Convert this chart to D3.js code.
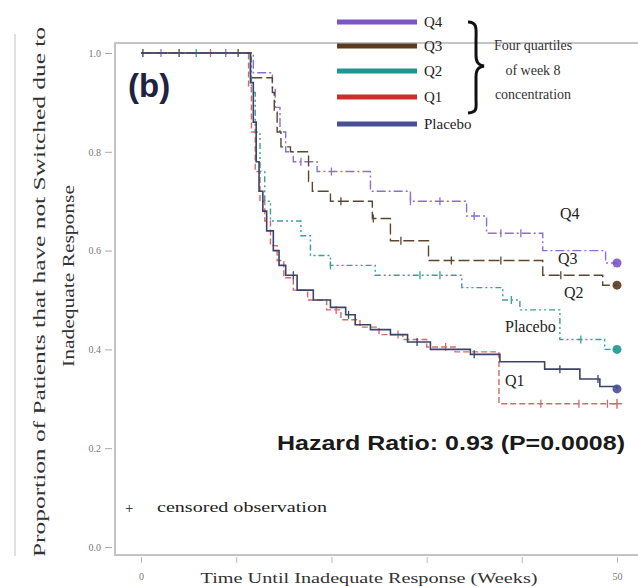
<!DOCTYPE html>
<html>
<head>
<meta charset="utf-8">
<script src="https://cdn.jsdelivr.net/npm/d3@7/dist/d3.min.js"></script>
<style>
  html, body { margin: 0; padding: 0; background: #fff; }
  svg { display: block; }
</style>
</head>
<body>
<svg id="chart" width="638" height="587"></svg>
<script>
// Kaplan-Meier step data: [week, proportion remaining] at each step
const weeks = [0, 10, 20, 30, 40, 50];
const xTickLabels = ["0", "", "", "", "", "50"];
const yTicks = [0.0, 0.2, 0.4, 0.6, 0.8, 1.0];
const yTickLabels = ["0.0", "0.2", "0.4", "0.6", "0.8", "1.0"];

const q4Steps = [[0,1],[11.8,0.96],[13.8,0.93],[14.1,0.89],[14.6,0.84],[15.2,0.80],[16.0,0.78],[18.5,0.76],[24.1,0.72],[28.3,0.70],[34.2,0.67],[36.3,0.635],[42.2,0.60],[48.8,0.575],[50,0.575]];
const q3Steps = [[0,1],[11.5,0.95],[13.8,0.92],[14.0,0.88],[14.3,0.84],[14.7,0.81],[15.7,0.80],[17.6,0.74],[18.0,0.72],[19.9,0.70],[24.3,0.665],[26.2,0.62],[30.2,0.58],[42.2,0.55],[48.5,0.53],[50,0.53]];
const q2Steps = [[0,1],[11.6,0.92],[12.0,0.84],[12.5,0.76],[13.0,0.70],[13.6,0.66],[16.8,0.63],[17.8,0.59],[19.9,0.57],[24.6,0.55],[33.7,0.525],[38.0,0.50],[39.8,0.48],[44.0,0.42],[48.7,0.40],[50,0.40]];
const q1Steps = [[0,1],[11.3,0.93],[11.6,0.84],[12.0,0.76],[12.5,0.70],[13.0,0.66],[13.6,0.61],[14.3,0.58],[15.0,0.545],[16.0,0.52],[17.5,0.50],[19.5,0.48],[21.0,0.46],[23.0,0.445],[25.0,0.43],[27.5,0.42],[30.0,0.405],[33.0,0.395],[37.6,0.29],[50,0.29]];
const placeboSteps = [[0,1],[11.5,0.94],[11.8,0.86],[12.1,0.78],[12.4,0.72],[12.8,0.68],[13.2,0.64],[13.9,0.60],[14.5,0.57],[15.2,0.55],[16.4,0.52],[18.1,0.50],[19.9,0.485],[21.5,0.47],[22.5,0.45],[24.1,0.44],[26.2,0.43],[28.0,0.415],[30.4,0.40],[34.6,0.39],[37.7,0.375],[42.4,0.36],[46.1,0.34],[48.2,0.325],[50,0.32]];

// censored observation times (weeks)
const q4Censor = [2.1, 8.9, 16.8, 20.0, 28.3, 31.4, 35.0, 37.8, 39.9];
const q3Censor = [4.0, 10.2, 21.0, 24.4, 27.3, 32.6, 37.8, 44.1];
const q2Censor = [5.8, 19.9, 29.3, 31.4, 38.9, 46.2];
const q1Censor = [7.3, 20.5, 27.0, 32.0, 42.0, 46.0, 49.0];
const placeboCensor = [0.2, 16.0, 21.8, 29.0, 35.0, 44.0, 48.0];

const seriesNames = ["Q4", "Q3", "Q2", "Q1", "Placebo"];
const seriesColors = ["#7a55c8", "#5b3b1f", "#1f9690", "#c8302c", "#4a4f95"];
const plotColors = ["#8e6fd0", "#5b4630", "#3a9e97", "#d36a6a", "#3c4268"];
const dashes = ["9,3,2,3", "11,4", "6,3,2,3,2,3", "6,3", null];
const endMarker = ["dot", "dot", "dot", "plus", "dot"];

const allSteps = [q4Steps, q3Steps, q2Steps, q1Steps, placeboSteps];
const allCensor = [q4Censor, q3Censor, q2Censor, q1Censor, placeboCensor];

const svg = d3.select("#chart");
const x = d3.scaleLinear().domain([0, 50]).range([141, 617]);
const y = d3.scaleLinear().domain([0, 1]).range([547, 53]);

const serif = "'Liberation Serif', 'Times New Roman', serif";
const sans = "'Liberation Sans', Arial, sans-serif";

// faint outer border on the left
svg.append("line").attr("x1", 15).attr("x2", 15).attr("y1", 34).attr("y2", 556)
  .attr("stroke", "#d6d6d6").attr("stroke-width", 1.5);

// plot frame
svg.append("rect").attr("x", 115).attr("y", 43).attr("width", 530).attr("height", 512)
  .attr("fill", "none").attr("stroke", "#c4c4c4").attr("stroke-width", 2);

// y axis
const yAxis = d3.axisLeft(y).tickValues(yTicks).tickFormat((d, i) => yTickLabels[i])
  .tickSize(7).tickPadding(4);
const gy = svg.append("g").attr("transform", "translate(112,0)").call(yAxis);
gy.select(".domain").remove();
gy.selectAll("line").attr("stroke", "#aaa");
gy.selectAll("text").attr("font-family", serif).attr("font-size", 10).attr("fill", "#777");

// x axis
const xAxis = d3.axisBottom(x).tickValues(weeks).tickFormat((d, i) => xTickLabels[i])
  .tickSize(6).tickPadding(10);
const gx = svg.append("g").attr("transform", "translate(0,557)").call(xAxis);
gx.select(".domain").remove();
gx.selectAll("line").attr("stroke", "#bbb");
gx.selectAll("text").attr("font-family", serif).attr("font-size", 10).attr("fill", "#777");

// survival curves
const line = d3.line().x(d => x(d[0])).y(d => y(d[1])).curve(d3.curveStepAfter);

function valueAt(steps, t) {
  let v = steps[0][1];
  for (const s of steps) { if (s[0] <= t) v = s[1]; }
  return v;
}

// draw placebo last so it sits on top of the others
const order = [0, 1, 2, 3, 4];
order.forEach(i => {
  const g = svg.append("g");
  g.append("path").datum(allSteps[i]).attr("d", line)
    .attr("fill", "none").attr("stroke", plotColors[i])
    .attr("stroke-width", i === 4 ? 1.6 : 1.4)
    .attr("stroke-dasharray", dashes[i]);
  g.selectAll("line.cens").data(allCensor[i]).join("line")
    .attr("x1", d => x(d)).attr("x2", d => x(d))
    .attr("y1", d => y(valueAt(allSteps[i], d)) - 4)
    .attr("y2", d => y(valueAt(allSteps[i], d)) + 4)
    .attr("stroke", plotColors[i]).attr("stroke-width", 1.3);
  const last = allSteps[i][allSteps[i].length - 1];
  if (endMarker[i] === "dot") {
    g.append("circle").attr("cx", x(last[0])).attr("cy", y(last[1])).attr("r", 4.5)
      .attr("fill", seriesColors[i]).attr("opacity", 0.9);
  } else {
    g.append("path")
      .attr("d", `M${x(last[0]) - 5},${y(last[1])}h10M${x(last[0])},${y(last[1]) - 5}v10`)
      .attr("stroke", plotColors[i]).attr("stroke-width", 1.4);
  }
});

// panel letter
svg.append("text").attr("x", 128).attr("y", 97).text("(b)")
  .attr("font-family", sans).attr("font-weight", "bold").attr("font-size", 33)
  .attr("fill", "#1f2340");

// legend
const legendY = [22, 46, 71, 97, 124];
seriesNames.forEach((n, i) => {
  svg.append("line").attr("x1", 337).attr("x2", 417)
    .attr("y1", legendY[i]).attr("y2", legendY[i])
    .attr("stroke", seriesColors[i]).attr("stroke-width", 5);
  svg.append("text").attr("x", 424).attr("y", legendY[i] + 5).text(n)
    .attr("font-family", serif).attr("font-size", 15).attr("fill", "#222");
});

// brace grouping the quartiles
svg.append("path")
  .attr("d", "M468,22 C478,22 476,30 476,40 L476,55 C476,62 478,65 484,66 C478,67 476,70 476,77 L476,98 C476,108 478,112 468,113")
  .attr("fill", "none").attr("stroke", "#111").attr("stroke-width", 3);

const braceText = ["Four quartiles", "of week 8", "concentration"];
const braceY = [50, 75, 99];
braceText.forEach((t, i) => {
  svg.append("text").attr("x", 533).attr("y", braceY[i]).text(t)
    .attr("text-anchor", "middle").attr("font-family", serif).attr("font-size", 14).attr("fill", "#333");
});

// curve labels
const curveLabels = ["Q4", "Q3", "Q2", "Placebo", "Q1"];
const curveLabelX = [560, 558, 564, 505, 505];
const curveLabelY = [219, 264, 298, 332, 386];
curveLabels.forEach((t, i) => {
  svg.append("text").attr("x", curveLabelX[i]).attr("y", curveLabelY[i]).text(t)
    .attr("font-family", serif).attr("font-size", 16).attr("fill", "#222");
});

// hazard ratio annotation
svg.append("text").attr("x", 277).attr("y", 450).text("Hazard Ratio: 0.93 (P=0.0008)")
  .attr("font-family", sans).attr("font-weight", "bold").attr("font-size", 21)
  .attr("textLength", 348).attr("lengthAdjust", "spacingAndGlyphs").attr("fill", "#1a1a1a");

// censoring key
svg.append("text").attr("x", 125).attr("y", 513).text("+")
  .attr("font-family", serif).attr("font-size", 15).attr("fill", "#222");
svg.append("text").attr("x", 157).attr("y", 512).text("censored observation")
  .attr("font-family", serif).attr("font-size", 15).attr("textLength", 170)
  .attr("lengthAdjust", "spacingAndGlyphs").attr("fill", "#222");

// axis titles
svg.append("text").attr("x", 369).attr("y", 583).text("Time Until Inadequate Response (Weeks)")
  .attr("text-anchor", "middle").attr("font-family", serif).attr("font-size", 15)
  .attr("textLength", 337).attr("lengthAdjust", "spacingAndGlyphs").attr("fill", "#333");

svg.append("text").attr("transform", "translate(45,292) rotate(-90)")
  .text("Proportion of Patients that have not Switched due to")
  .attr("text-anchor", "middle").attr("font-family", serif).attr("font-size", 16)
  .attr("textLength", 530).attr("lengthAdjust", "spacingAndGlyphs").attr("fill", "#333");
svg.append("text").attr("transform", "translate(74,276) rotate(-90)")
  .text("Inadequate Response")
  .attr("text-anchor", "middle").attr("font-family", serif).attr("font-size", 16)
  .attr("textLength", 182).attr("lengthAdjust", "spacingAndGlyphs").attr("fill", "#333");
</script>
</body>
</html>
